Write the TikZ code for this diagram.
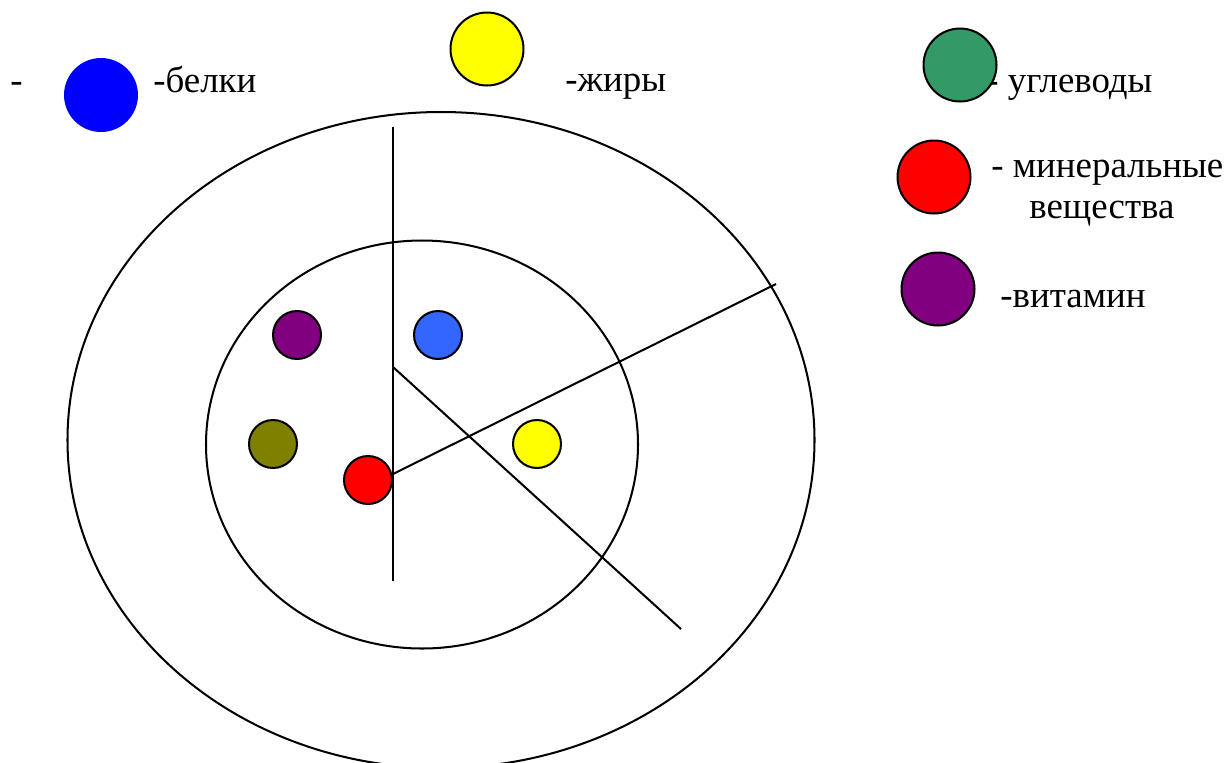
\documentclass[tikz,border=0pt]{standalone}
\usepackage{fontspec}
\setmainfont{Liberation Serif}
\definecolor{cblue}{HTML}{0000FF}
\definecolor{cyellow}{HTML}{FFFF00}
\definecolor{cgreen}{HTML}{339966}
\definecolor{cred}{HTML}{FF0000}
\definecolor{cpurple}{HTML}{800080}
\definecolor{cblueb}{HTML}{3366FF}
\definecolor{colive}{HTML}{808000}
\begin{document}
\begin{tikzpicture}[x=0.02cm,y=-0.02cm,
  ln/.style={line width=1.15pt,black},
  dot/.style={circle,inner sep=0pt,minimum size=0.96cm,draw=black,line width=1.15pt},
  big/.style={circle,inner sep=0pt,minimum size=1.46cm,draw=black,line width=1.15pt},
  lbl/.style={anchor=base west,inner sep=0pt,font=\fontsize{21}{25}\selectfont}]
\useasboundingbox (0,0) rectangle (1227,762);
\fill[white] (0,0) rectangle (1227,762);
% rings
\draw[ln] (441,440) ellipse [x radius=373.5, y radius=328];
\draw[ln] (422,444.5) ellipse [x radius=216, y radius=204];
% dividing lines
\coordinate (vtop) at (393,127);
\coordinate (vbot) at (393,581);
\coordinate (d1s) at (393,367);
\coordinate (d1e) at (681,629);
\coordinate (d2s) at (393,474);
\coordinate (d2e) at (776,284);
\draw[ln] (vtop) -- (vbot);
\draw[ln] (d1s) -- (d1e);
\draw[ln] (d2s) -- (d2e);
% inner dots
\node[dot,fill=cpurple] (ip) at (297,335) {};
\node[dot,fill=cblueb] (ib) at (438,335) {};
\node[dot,fill=colive] (io) at (273,444) {};
\node[dot,fill=cred] (ir) at (368,480) {};
\node[dot,fill=cyellow] (iy) at (537,444) {};
% legend
\node[lbl] (t0) at (10,92) {-};
\node[big,fill=cblue,draw=none,minimum size=1.48cm] (lb) at (101,95) {};
\node[lbl] (tb) at (153,92) {-белки};
\node[big,fill=cyellow] (ly) at (487,49) {};
\node[lbl] (ty) at (565,91) {-жиры};
\node[lbl] (tg) at (986,92) {- углеводы};
\node[big,fill=cgreen] (lg) at (960,65) {};
\node[big,fill=cred] (lr) at (934,177) {};
\node[lbl] (tr) at (991,177) {- минеральные};
\node[lbl] (tr2) at (1029,218) {вещества};
\node[big,fill=cpurple] (lp) at (938,289) {};
\node[lbl] (tp) at (1000,307) {-витамин};
\end{tikzpicture}
\end{document}
